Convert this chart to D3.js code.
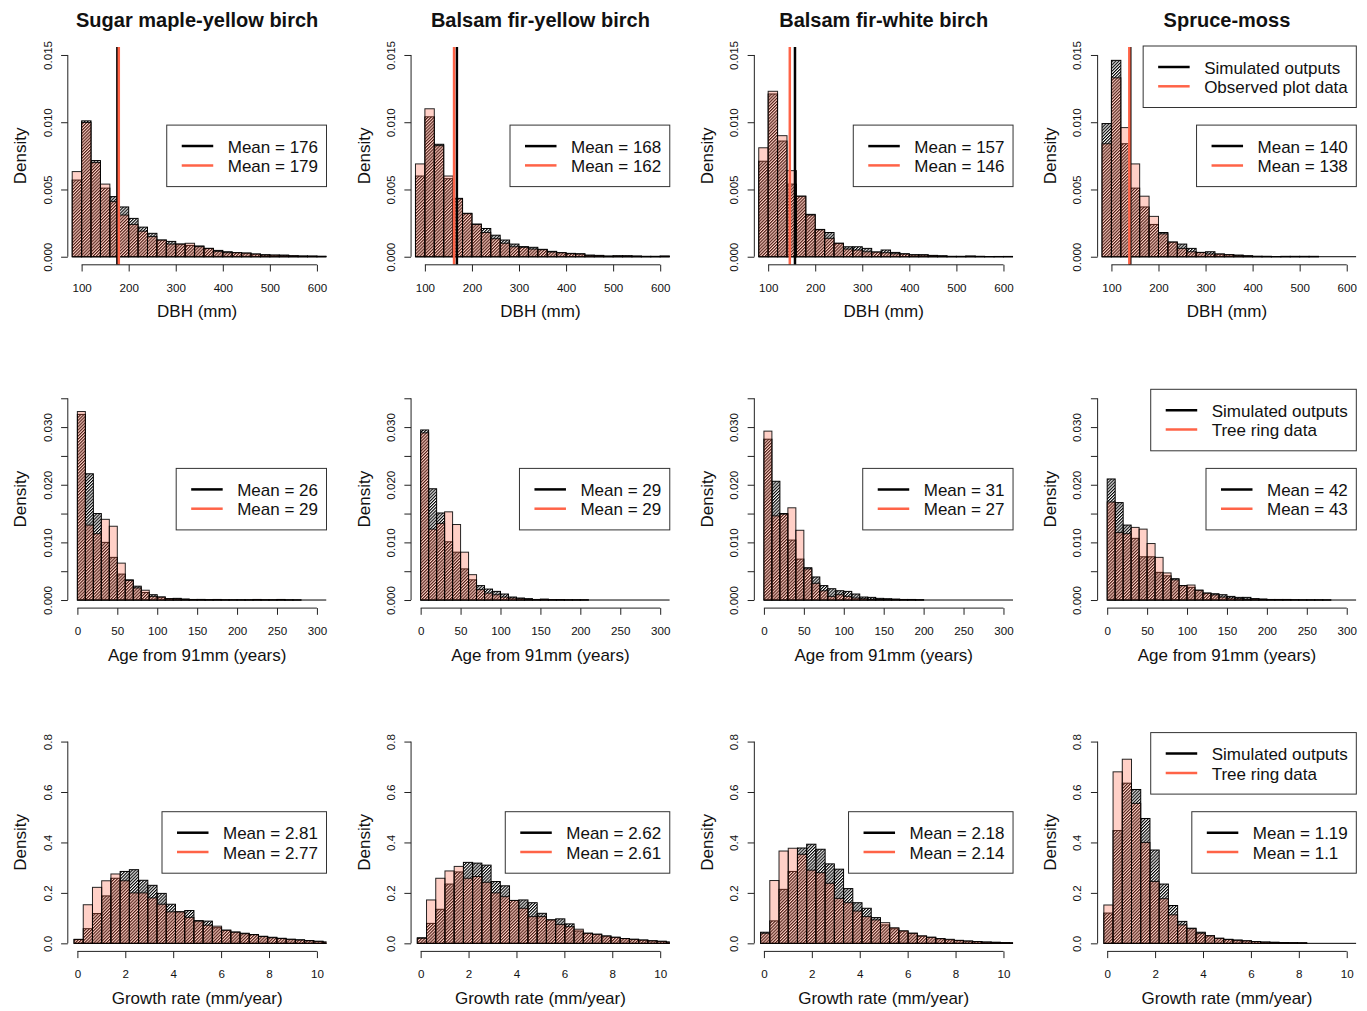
<!DOCTYPE html>
<html>
<head>
<meta charset="utf-8">
<script src="https://cdn.jsdelivr.net/npm/d3@7"></script>
<style>
  body { margin: 0; background: #fff; }
  svg { display: block; }
  text { font-family: "Liberation Sans", Arial, Helvetica, sans-serif; fill: #111; }
</style>
</head>
<body>
<svg id="chart" width="1367" height="1011"></svg>
<script>
// ---- Panel titles (forest types) and axis titles ----
const forestTypes = ["Sugar maple-yellow birch", "Balsam fir-yellow birch", "Balsam fir-white birch", "Spruce-moss"];
const xTitles = ["DBH (mm)", "Age from 91mm (years)", "Growth rate (mm/year)"];
const sourceLabels = [
  ["Simulated outputs", "Observed plot data"],
  ["Simulated outputs", "Tree ring data"],
  ["Simulated outputs", "Tree ring data"]
];

// ---- Tick values and labels ----
const dbhTicks = [100, 200, 300, 400, 500, 600];
const ageTicks = [0, 50, 100, 150, 200, 250, 300];
const growthTicks = [0, 2, 4, 6, 8, 10];
const dbhDensityTicks = [0, 0.005, 0.010, 0.015];
const dbhDensityLabels = ["0.000", "0.005", "0.010", "0.015"];
const ageDensityTicks = [0, 0.005, 0.010, 0.015, 0.020, 0.025, 0.030, 0.035];
const ageDensityLabels = ["0.000", "", "0.010", "", "0.020", "", "0.030", ""];
const growthDensityTicks = [0, 0.2, 0.4, 0.6, 0.8];
const growthDensityLabels = ["0.0", "0.2", "0.4", "0.6", "0.8"];

// ---- DBH histograms: 20 mm bins starting at 80 mm ----
const dbhSimSugarMaple = [0.0057, 0.0101, 0.00715, 0.0051, 0.00447, 0.0037, 0.00285, 0.0022, 0.00174, 0.00124, 0.00114, 0.00094, 0.00084, 0.0008, 0.00062, 0.00047, 0.00037, 0.0003, 0.00027, 0.0002, 0.00015, 0.00012, 0.00012, 0.00007, 0.00005, 0.00005, 0.00003];
const dbhObsSugarMaple = [0.00633, 0.00998, 0.0070, 0.0054, 0.0041, 0.0031, 0.0024, 0.0019, 0.0015, 0.00124, 0.00094, 0.00094, 0.0010, 0.00075, 0.00062, 0.0004, 0.0003, 0.0003, 0.00027, 0.0002, 0.00012, 0.00012, 0.0001, 0.00007, 0.00005, 0.00004, 0.00003];
const dbhSimFirYellow = [0.0060, 0.0104, 0.00836, 0.0058, 0.00434, 0.00323, 0.00243, 0.0021, 0.0016, 0.00124, 0.00094, 0.00075, 0.0007, 0.00055, 0.0004, 0.0003, 0.00025, 0.00022, 0.00012, 0.0001, 0.00005, 0.00007, 0.00007, 0.00005, 0.00003, 0.00003, 0.00005];
const dbhObsFirYellow = [0.0069, 0.0110, 0.00826, 0.0060, 0.0043, 0.0032, 0.0024, 0.0018, 0.00134, 0.0010, 0.00074, 0.0007, 0.00057, 0.00052, 0.00035, 0.0003, 0.00022, 0.0002, 0.0001, 0.00008, 0.00004, 0.00006, 0.00006, 0.00004, 0.00002, 0.00002, 0.00004];
const dbhSimFirWhite = [0.0071, 0.0121, 0.0086, 0.0054, 0.0045, 0.00315, 0.00203, 0.0018, 0.0010, 0.00074, 0.00074, 0.00062, 0.00035, 0.0005, 0.00032, 0.00022, 0.00015, 0.00015, 0.0001, 0.00007, 0.00003, 0.00003, 0.00005, 0.00003, 0.00001, 0.00002, 0.00002];
const dbhObsFirWhite = [0.0081, 0.0123, 0.0090, 0.0064, 0.0045, 0.0031, 0.0020, 0.00137, 0.0010, 0.00057, 0.0005, 0.00037, 0.00035, 0.0003, 0.00022, 0.0002, 0.00013, 0.00012, 0.00008, 0.00005, 0.00002, 0.00002, 0.00004, 0.00002, 0.00001, 0.00001, 0.00002];
const dbhSimSpruceMoss = [0.0099, 0.0146, 0.0084, 0.0051, 0.0037, 0.0024, 0.0018, 0.00109, 0.00094, 0.00062, 0.00032, 0.00037, 0.0002, 0.00015, 0.00012, 0.00007, 0.00003, 0.00003, 0.00001, 0.00003, 0.00003, 0.00003, 0.00003, 0, 0, 0, 0];
const dbhObsSpruceMoss = [0.0084, 0.0133, 0.0096, 0.0069, 0.0045, 0.0030, 0.0017, 0.00109, 0.00062, 0.00037, 0.00032, 0.0002, 0.0002, 0.00015, 0.0001, 0.00006, 0.00003, 0.00002, 0.00001, 0.00001, 0.00001, 0.00001, 0.00001, 0, 0, 0, 0];
const dbhSimMeans = [176, 168, 157, 140];
const dbhObsMeans = [179, 162, 146, 138];

// ---- Age histograms: 10-year bins starting at 0 ----
const ageSimSugarMaple = [0.0322, 0.0219, 0.0150, 0.0100, 0.0074, 0.0045, 0.0035, 0.0024, 0.0013, 0.00092, 0.00052, 0.00023, 0.00029, 0.00017, 0.0001, 0.0001, 0.00007, 0.0001, 0.00005, 0.00004, 0.00004, 0.00004, 0.0001, 0.00005, 0.00004, 0.0001, 0.00003, 0.00002, 0, 0, 0];
const ageObsSugarMaple = [0.0327, 0.0130, 0.0115, 0.0140, 0.0128, 0.0064, 0.0034, 0.0021, 0.0017, 0.00063, 0.00052, 0.00023, 0.0002, 0.00012, 0.00008, 0.0001, 0.00005, 0.00008, 0.00004, 0.00003, 0.00003, 0.00003, 0.00007, 0.00004, 0.00003, 0.00008, 0.00002, 0.00001, 0, 0, 0];
const ageSimFirYellow = [0.0295, 0.0193, 0.0151, 0.0101, 0.0083, 0.0054, 0.0035, 0.0025, 0.0019, 0.0015, 0.00104, 0.00052, 0.00035, 0.00023, 0.0001, 0.0001, 0.00007, 0.00007, 0.00004, 0.00004, 0.00004, 0, 0, 0, 0, 0, 0, 0, 0, 0, 0];
const ageObsFirYellow = [0.0290, 0.0123, 0.0133, 0.0153, 0.0131, 0.0083, 0.0044, 0.0018, 0.0012, 0.00092, 0.00052, 0.00035, 0.00023, 0.00015, 0.00008, 0.00017, 0.00005, 0.00008, 0.00003, 0.00003, 0.00003, 0, 0, 0, 0, 0, 0, 0, 0, 0, 0];
const ageSimFirWhite = [0.0279, 0.0206, 0.0150, 0.0104, 0.0071, 0.0056, 0.0040, 0.0025, 0.00196, 0.00161, 0.0015, 0.00104, 0.00052, 0.00046, 0.00029, 0.00023, 0.00017, 0.0001, 0.0001, 0.00005, 0, 0, 0, 0, 0, 0, 0, 0, 0, 0, 0];
const ageObsFirWhite = [0.0293, 0.0146, 0.0149, 0.0160, 0.0121, 0.0054, 0.0029, 0.0016, 0.00063, 0.00092, 0.00063, 0.00035, 0.00023, 0.00015, 0.0001, 0.00008, 0.00005, 0.00004, 0.00003, 0.00002, 0, 0, 0, 0, 0, 0, 0, 0, 0, 0, 0];
const ageSimSpruceMoss = [0.0210, 0.0169, 0.0130, 0.0107, 0.0075, 0.0075, 0.0048, 0.0042, 0.0037, 0.0025, 0.0022, 0.0017, 0.0012, 0.00109, 0.00092, 0.00063, 0.00046, 0.00046, 0.00023, 0.00017, 0.0001, 0.0001, 0.0001, 0.00005, 0.00003, 0.00003, 0.00003, 0.00002, 0, 0, 0];
const ageObsSpruceMoss = [0.0170, 0.0117, 0.0115, 0.0126, 0.0123, 0.0098, 0.0074, 0.0047, 0.0035, 0.0025, 0.0026, 0.0017, 0.0012, 0.0009, 0.00052, 0.00035, 0.00023, 0.00015, 0.0002, 0.00012, 0.00008, 0.00007, 0.00008, 0.00003, 0.00002, 0.00002, 0.00002, 0.00001, 0, 0, 0];
const ageSimMeans = [26, 29, 31, 42];
const ageObsMeans = [29, 29, 27, 43];

// ---- Growth-rate histograms: 0.385 mm/year bins starting at -0.14 ----
const growthSimSugarMaple = [0.015, 0.058, 0.118, 0.188, 0.258, 0.285, 0.292, 0.250, 0.230, 0.198, 0.155, 0.125, 0.130, 0.090, 0.088, 0.062, 0.052, 0.045, 0.040, 0.035, 0.028, 0.024, 0.020, 0.016, 0.014, 0.011, 0.008, 0.005];
const growthObsSugarMaple = [0.016, 0.153, 0.222, 0.248, 0.275, 0.248, 0.200, 0.200, 0.180, 0.155, 0.125, 0.125, 0.103, 0.088, 0.072, 0.068, 0.052, 0.044, 0.038, 0.034, 0.027, 0.022, 0.019, 0.016, 0.013, 0.010, 0.008, 0.005];
const growthSimFirYellow = [0.022, 0.079, 0.135, 0.235, 0.283, 0.321, 0.318, 0.310, 0.245, 0.228, 0.170, 0.172, 0.161, 0.119, 0.093, 0.097, 0.077, 0.049, 0.040, 0.036, 0.029, 0.024, 0.019, 0.016, 0.013, 0.010, 0.008, 0.005];
const growthObsFirYellow = [0.020, 0.172, 0.258, 0.287, 0.305, 0.258, 0.265, 0.242, 0.200, 0.185, 0.170, 0.139, 0.106, 0.106, 0.093, 0.075, 0.066, 0.056, 0.040, 0.036, 0.029, 0.024, 0.019, 0.016, 0.013, 0.010, 0.008, 0.005];
const growthSimFirWhite = [0.044, 0.089, 0.214, 0.285, 0.378, 0.393, 0.373, 0.315, 0.294, 0.217, 0.161, 0.139, 0.102, 0.073, 0.058, 0.048, 0.040, 0.028, 0.024, 0.018, 0.014, 0.011, 0.009, 0.007, 0.005, 0.004, 0.003, 0.002];
const growthObsFirWhite = [0.040, 0.249, 0.366, 0.377, 0.353, 0.290, 0.280, 0.238, 0.178, 0.161, 0.128, 0.106, 0.093, 0.082, 0.062, 0.050, 0.040, 0.030, 0.024, 0.019, 0.016, 0.012, 0.009, 0.007, 0.005, 0.004, 0.003, 0.002];
const growthSimSpruceMoss = [0.120, 0.447, 0.635, 0.610, 0.495, 0.370, 0.235, 0.150, 0.087, 0.060, 0.044, 0.030, 0.020, 0.016, 0.013, 0.010, 0.007, 0.005, 0.004, 0.003, 0.002, 0.002, 0, 0, 0, 0, 0, 0];
const growthObsSpruceMoss = [0.152, 0.680, 0.730, 0.555, 0.400, 0.245, 0.177, 0.113, 0.073, 0.058, 0.040, 0.030, 0.020, 0.015, 0.012, 0.010, 0.007, 0.005, 0.004, 0.003, 0.003, 0.002, 0, 0, 0, 0, 0, 0];
const growthSimMeans = [2.81, 2.62, 2.18, 1.19];
const growthObsMeans = [2.77, 2.61, 2.14, 1.1];

// ---- Row settings (one row per variable) ----
const rows = [
  { xlim: [91, 600], ylim: [0, 0.015], binStart: 80, binWidth: 20, meanLines: true,
    xTicks: dbhTicks, yTicks: dbhDensityTicks, yLabels: dbhDensityLabels, xTitle: xTitles[0],
    sim: [dbhSimSugarMaple, dbhSimFirYellow, dbhSimFirWhite, dbhSimSpruceMoss],
    obs: [dbhObsSugarMaple, dbhObsFirYellow, dbhObsFirWhite, dbhObsSpruceMoss],
    simMeans: dbhSimMeans, obsMeans: dbhObsMeans, sources: sourceLabels[0] },
  { xlim: [0, 300], ylim: [0, 0.035], binStart: 0, binWidth: 10, meanLines: false,
    xTicks: ageTicks, yTicks: ageDensityTicks, yLabels: ageDensityLabels, xTitle: xTitles[1],
    sim: [ageSimSugarMaple, ageSimFirYellow, ageSimFirWhite, ageSimSpruceMoss],
    obs: [ageObsSugarMaple, ageObsFirYellow, ageObsFirWhite, ageObsSpruceMoss],
    simMeans: ageSimMeans, obsMeans: ageObsMeans, sources: sourceLabels[1] },
  { xlim: [0, 10], ylim: [0, 0.8], binStart: -0.14, binWidth: 0.385, meanLines: false,
    xTicks: growthTicks, yTicks: growthDensityTicks, yLabels: growthDensityLabels, xTitle: xTitles[2],
    sim: [growthSimSugarMaple, growthSimFirYellow, growthSimFirWhite, growthSimSpruceMoss],
    obs: [growthObsSugarMaple, growthObsFirYellow, growthObsFirWhite, growthObsSpruceMoss],
    simMeans: growthSimMeans, obsMeans: growthObsMeans, sources: sourceLabels[2] }
];

// ---- Layout ----
const LEFT0 = 67.8, COL_STEP = 343.27, TOP0 = 46.9, ROW_STEP = 343.3;
const PW = 258.7, PH = 217.9;
const TICK = 6.7;
const simColor = "#000";
const obsLineColor = "tomato";
const obsFill = "rgba(255,99,71,0.3)";
const axisColor = "#222";

const svg = d3.select("#chart");
svg.append("rect").attr("width", 1367).attr("height", 1011).attr("fill", "#fff");
const defs = svg.append("defs");

// fine diagonal shading used for the simulated histograms
const hatch = defs.append("pattern")
  .attr("id", "hatch")
  .attr("patternUnits", "userSpaceOnUse")
  .attr("width", 2.2).attr("height", 2.2)
  .attr("patternTransform", "rotate(45)");
hatch.append("line")
  .attr("x1", 0.55).attr("y1", -1).attr("x2", 0.55).attr("y2", 4)
  .attr("stroke", "#000").attr("stroke-width", 1.15);

const expand = ([lo, hi]) => [lo - 0.04 * (hi - lo), hi + 0.04 * (hi - lo)];

function drawLegend(g, rightX, topY, items) {
  const lg = g.append("g");
  const box = lg.append("rect");
  const texts = items.map((it, i) =>
    lg.append("text")
      .attr("font-size", 17)
      .attr("y", topY + 21 + i * 19.3 + 6.6)
      .text(it.label));
  const maxW = d3.max(texts, t => t.node().getComputedTextLength());
  const w = 61 + maxW + 8.5;
  const left = rightX - w;
  box.attr("x", left).attr("y", topY).attr("width", w).attr("height", 61.5)
    .attr("fill", "#fff").attr("stroke", "#333").attr("stroke-width", 1);
  texts.forEach(t => t.attr("x", left + 61));
  items.forEach((it, i) => {
    lg.append("line")
      .attr("x1", left + 15).attr("x2", left + 46.5)
      .attr("y1", topY + 21 + i * 19.3).attr("y2", topY + 21 + i * 19.3)
      .attr("stroke", it.color).attr("stroke-width", 2.5);
  });
}

rows.forEach((row, r) => {
  const usrX = expand(row.xlim), usrY = expand(row.ylim);
  forestTypes.forEach((name, c) => {
    const left = LEFT0 + c * COL_STEP, top = TOP0 + r * ROW_STEP;
    const x = d3.scaleLinear().domain(usrX).range([left, left + PW]);
    const y = d3.scaleLinear().domain(usrY).range([top + PH, top]);
    const clipId = `clip-${r}-${c}`;
    defs.append("clipPath").attr("id", clipId)
      .append("rect").attr("x", left).attr("y", top).attr("width", PW).attr("height", PH);

    const g = svg.append("g");
    const plot = g.append("g").attr("clip-path", `url(#${clipId})`);

    const toBins = vals => vals.map((v, i) => ({
      x0: row.binStart + i * row.binWidth,
      x1: row.binStart + (i + 1) * row.binWidth,
      v
    }));

    // zero line across the remaining empty bins
    plot.append("line")
      .attr("x1", x(row.binStart)).attr("x2", left + PW)
      .attr("y1", y(0)).attr("y2", y(0))
      .attr("stroke", "#000").attr("stroke-width", 1);

    // simulated histogram (shaded)
    plot.append("g").selectAll("rect")
      .data(toBins(row.sim[c]))
      .join("rect")
      .attr("x", d => x(d.x0))
      .attr("width", d => x(d.x1) - x(d.x0))
      .attr("y", d => y(d.v))
      .attr("height", d => y(0) - y(d.v))
      .attr("fill", "url(#hatch)")
      .attr("stroke", simColor).attr("stroke-width", 1);

    // observed histogram (translucent fill)
    plot.append("g").selectAll("rect")
      .data(toBins(row.obs[c]))
      .join("rect")
      .attr("x", d => x(d.x0))
      .attr("width", d => x(d.x1) - x(d.x0))
      .attr("y", d => y(d.v))
      .attr("height", d => y(0) - y(d.v))
      .attr("fill", obsFill)
      .attr("stroke", "#000").attr("stroke-opacity", 0.85).attr("stroke-width", 1);

    // mean lines (DBH row only)
    if (row.meanLines) {
      [[row.simMeans[c], simColor], [row.obsMeans[c], obsLineColor]].forEach(([m, col]) => {
        plot.append("line")
          .attr("x1", x(m)).attr("x2", x(m))
          .attr("y1", top).attr("y2", top + PH)
          .attr("stroke", col).attr("stroke-width", 2.5);
      });
    }

    // x axis
    const gx = g.append("g")
      .attr("transform", `translate(0,${top + PH})`)
      .call(d3.axisBottom(x).tickValues(row.xTicks).tickSize(TICK).tickSizeOuter(0).tickFormat(d3.format("d")));
    gx.attr("font-size", 11.6).attr("font-family", null);
    gx.select(".domain")
      .attr("d", `M${x(row.xTicks[0])},0H${x(row.xTicks[row.xTicks.length - 1])}`)
      .attr("stroke", axisColor);
    gx.selectAll(".tick line").attr("stroke", axisColor);
    gx.selectAll(".tick text").attr("y", 26.9).attr("dy", null).attr("fill", "#111");

    // y axis
    const gy = g.append("g")
      .attr("transform", `translate(${left},0)`)
      .call(d3.axisLeft(y).tickValues(row.yTicks).tickSize(TICK).tickSizeOuter(0)
        .tickFormat((d, i) => row.yLabels[i]));
    gy.attr("font-size", 11.6).attr("font-family", null);
    gy.select(".domain")
      .attr("d", `M0,${y(row.yTicks[0])}V${y(row.yTicks[row.yTicks.length - 1])}`)
      .attr("stroke", axisColor);
    gy.selectAll(".tick line").attr("stroke", axisColor);
    gy.selectAll(".tick text")
      .attr("x", null).attr("dy", null)
      .attr("text-anchor", "middle")
      .attr("transform", "translate(-16.3,0) rotate(-90)")
      .attr("fill", "#111");

    // axis titles
    g.append("text")
      .attr("x", left + PW / 2).attr("y", top + PH + 52.5)
      .attr("text-anchor", "middle").attr("font-size", 17)
      .text(row.xTitle);
    g.append("text")
      .attr("transform", `translate(${left - 41.5},${top + PH / 2}) rotate(-90)`)
      .attr("text-anchor", "middle").attr("font-size", 17)
      .text("Density");

    if (r === 0) {
      g.append("text")
        .attr("x", left + PW / 2).attr("y", top - 19.9)
        .attr("text-anchor", "middle").attr("font-size", 20).attr("font-weight", "bold")
        .text(name);
    }

    // legends
    drawLegend(g, left + PW, top + PH / 2 - 30.75, [
      { label: `Mean = ${row.simMeans[c]}`, color: simColor },
      { label: `Mean = ${row.obsMeans[c]}`, color: obsLineColor }
    ]);
    if (c === 3) {
      drawLegend(g, left + PW, top - 0.9, [
        { label: row.sources[0], color: simColor },
        { label: row.sources[1], color: obsLineColor }
      ]);
    }
  });
});
</script>
</body>
</html>
